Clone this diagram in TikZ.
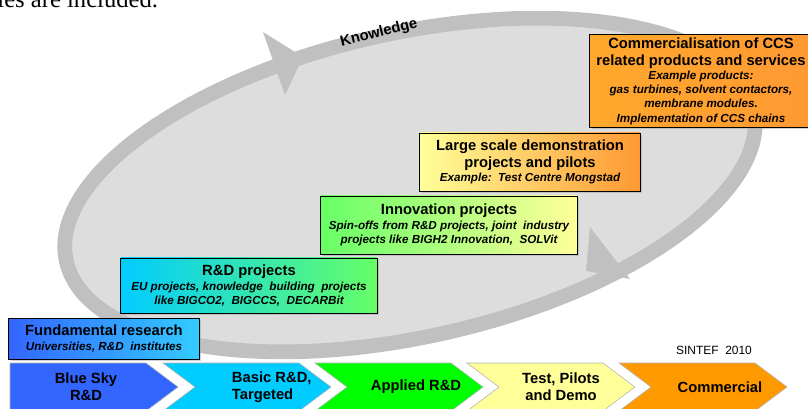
\documentclass[tikz,border=0pt]{standalone}
\usepackage{fontspec}
\setmainfont{Liberation Sans}
\newfontfamily\reportfont{Liberation Serif}
\usetikzlibrary{shadows}

\definecolor{ringband}{HTML}{C0C0C0}
\definecolor{ringfill}{HTML}{DDDDDD}
\definecolor{bluestage}{HTML}{3366FF}
\definecolor{skystage}{HTML}{33CCFF}
\definecolor{cyanstage}{HTML}{00CCFF}
\definecolor{lightgreen}{HTML}{66FF66}
\definecolor{greenstage}{HTML}{00FF00}
\definecolor{yellowstage}{HTML}{FFFF99}
\definecolor{lightorange}{HTML}{FF9933}
\definecolor{orangestage}{HTML}{FF9900}

\tikzset{
  ring/.style={draw=ringband, fill=ringfill, line width=10.5pt},
  stagebox/.style={draw=black, line width=0.7pt, align=center, inner sep=0pt,
    font=\fontsize{8.3}{10}\selectfont,
    drop shadow={shadow xshift=1.2pt, shadow yshift=-1.2pt, fill=black!35}},
  chevron/.style={draw=black!30, line width=0.4pt},
  stagelabel/.style={font=\fontsize{10.5}{12}\selectfont\bfseries, align=center},
  knowledge/.style={font=\fontsize{10.5}{12}\selectfont\bfseries, rotate=14},
}
\newcommand{\boxhead}[1]{{\fontsize{10.5}{12}\selectfont\bfseries #1}}
\newcommand{\boxnote}[1]{{\bfseries\itshape #1}}

\begin{document}
\begin{tikzpicture}[x=0.025cm, y=-0.025cm]
\useasboundingbox (0,0) rectangle (808,408);

% last line of the text above
\node[anchor=base east, font=\reportfont\fontsize{17.5}{20}\selectfont] (reportline) at (163,7) {ies are included.};

% Knowledge ring
\coordinate (ringCentre) at (410,185);
\filldraw[ring, rotate around={12.5:(ringCentre)}] (ringCentre) ellipse [x radius=352, y radius=152];

% Arrow heads on the ring
\fill[ringband] (263,32) -- (303,57) -- (285,95) -- cycle;
\fill[ringband] (590,227) -- (630,279) -- (586,271) -- cycle;

\node[knowledge] (knowledge) at (379,33) {Knowledge};

% Fundamental research
\node[stagebox, left color=bluestage, right color=skystage, minimum width=4.75cm, minimum height=1.025cm] (fund) at (104,338.5)
  {\boxhead{Fundamental research}\\[1.2pt] \boxnote{Universities, R\&D\ \ institutes}};

% R&D projects
\node[stagebox, left color=cyanstage, right color=lightgreen, minimum width=6.4cm, minimum height=1.375cm] (rdproj) at (249,285.5)
  {\boxhead{R\&D projects}\\[1pt] \boxnote{EU projects, knowledge\ \ building\ \ projects}\\ \boxnote{like BIGCO2,\ \ BIGCCS,\ \ DECARBit}};

% Innovation projects
\node[stagebox, left color=lightgreen, right color=yellowstage, minimum width=6.4cm, minimum height=1.45cm] (innov) at (449,225)
  {\boxhead{Innovation projects}\\[1pt] \boxnote{Spin-offs from R\&D projects, joint\ \ industry}\\ \boxnote{projects like BIGH2 Innovation,\ \ SOLVit}};

% Large scale demonstration
\node[stagebox, left color=yellowstage, right color=lightorange, minimum width=5.5cm, minimum height=1.45cm] (demo) at (530,162)
  {\boxhead{Large scale demonstration}\\[2pt] \boxhead{projects and pilots}\\[0.5pt] \boxnote{Example:\ \ Test Centre Mongstad}};

% Commercialisation
\node[stagebox, left color=lightorange!85!yellow, right color=lightorange, minimum width=5.55cm, minimum height=2.3cm] (commerc) at (701,81)
  {\boxhead{Commercialisation of CCS}\\[2pt] \boxhead{related products and services}\\[0.5pt]
   \boxnote{Example products:}\\ \boxnote{gas turbines, solvent contactors,}\\ \boxnote{membrane modules.}\\ \boxnote{Implementation of CCS chains}};

% Stage chevrons
\filldraw[chevron, fill=bluestage] (10,363) -- (146,363) -- (178,387) -- (146,411) -- (10,411) -- cycle;
\foreach \x/\col in {163/cyanstage, 315/greenstage, 467/yellowstage, 619/orangestage}
  \filldraw[chevron, fill=\col] (\x,363) -- ++(136,0) -- ++(32,24) -- ++(-32,24) -- ++(-136,0) -- ++(32,-24) -- cycle;

\node[stagelabel] (bluesky) at (86,387) {Blue Sky\\R\&D};
\node[stagelabel, align=left, anchor=west] (basic) at (227,387) {Basic R\&D,\\Targeted};
\node[stagelabel] (applied) at (416,387) {Applied R\&D};
\node[stagelabel] (pilots) at (561,387) {Test, Pilots\\and Demo};
\node[stagelabel] (commercial) at (720,387) {Commercial};

\node[font=\fontsize{8.5}{10}\selectfont] (sintef) at (714,350) {SINTEF\ \ 2010};

\end{tikzpicture}
\end{document}
